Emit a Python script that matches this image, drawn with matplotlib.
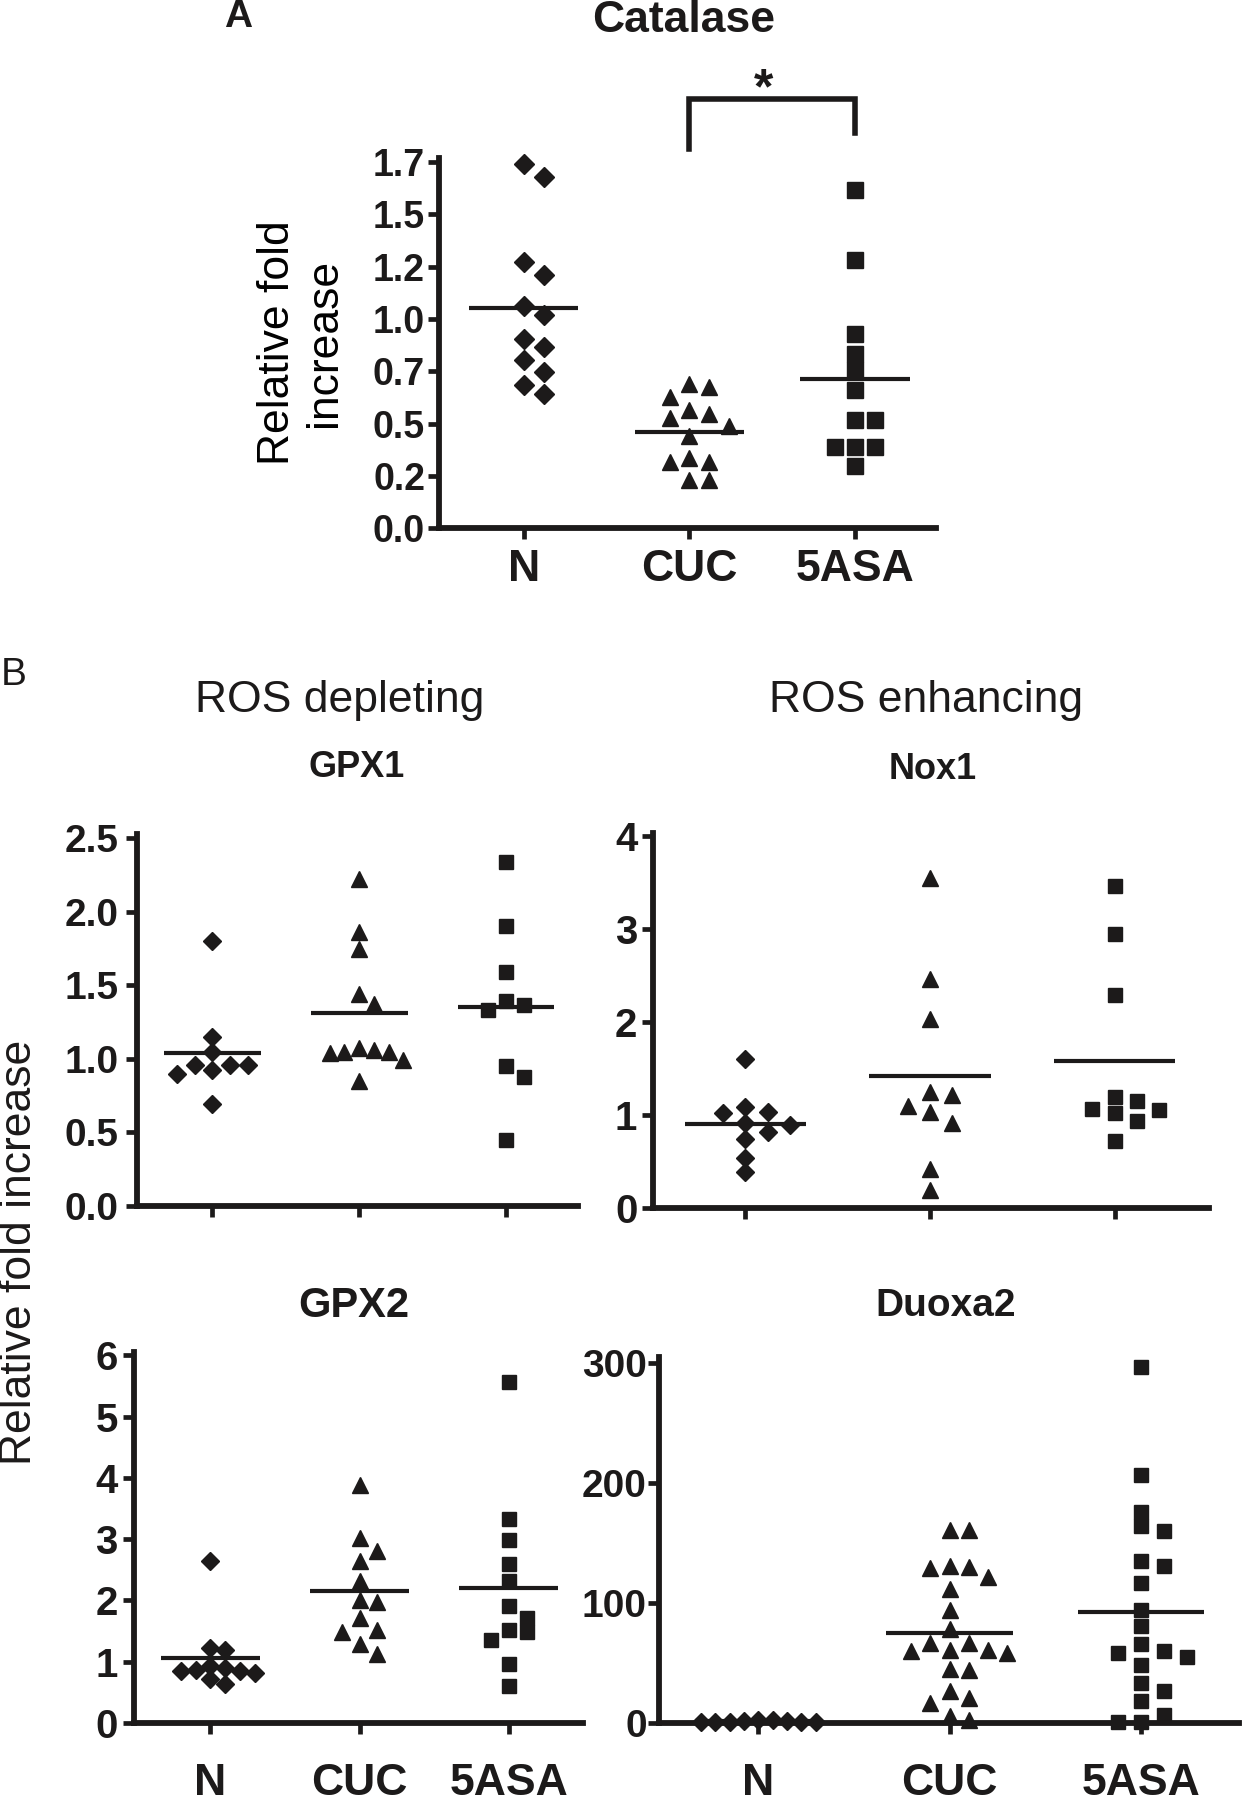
import numpy as np
import matplotlib
matplotlib.use("Agg")
import matplotlib.pyplot as plt

plt.rcParams['font.family'] = ['Liberation Sans', 'DejaVu Sans']

# ---------------- data ----------------
groups = ["N", "CUC", "5ASA"]

cat_N = [1.74, 1.68, 1.27, 1.21, 1.06, 1.02, 0.905, 0.865, 0.806, 0.746, 0.685, 0.641]
cat_CUC = [0.673, 0.691, 0.627, 0.544, 0.526, 0.563, 0.489, 0.443, 0.315, 0.334, 0.315, 0.233, 0.233]
cat_5ASA = [1.616, 1.283, 0.929, 0.832, 0.755, 0.663, 0.517, 0.517, 0.389, 0.389, 0.389, 0.297]
cat_ticks = [0, 0.25, 0.5, 0.75, 1.0, 1.25, 1.5, 1.75]
cat_ticklabels = ["0.0", "0.2", "0.5", "0.7", "1.0", "1.2", "1.5", "1.7"]

gpx1_N = [1.80, 1.15, 1.045, 0.96, 0.925, 0.895, 0.96, 0.96, 0.695]
gpx1_CUC = [2.225, 1.86, 1.75, 1.44, 1.375, 1.06, 1.05, 1.04, 1.05, 0.99, 1.075, 0.85]
gpx1_5ASA = [2.34, 1.905, 1.59, 1.395, 1.33, 1.37, 0.95, 0.875, 0.45]
gpx1_ticks = [0.0, 0.5, 1.0, 1.5, 2.0, 2.5]
gpx1_ticklabels = ["0.0", "0.5", "1.0", "1.5", "2.0", "2.5"]

nox1_N = [1.61, 1.09, 1.02, 1.04, 0.92, 0.90, 0.82, 0.74, 0.54, 0.39]
nox1_CUC = [3.55, 2.47, 2.03, 1.215, 1.255, 1.095, 1.035, 0.916, 0.42, 0.20]
nox1_5ASA = [3.47, 2.95, 2.29, 1.15, 1.055, 1.02, 1.07, 0.94, 1.20, 0.725]
nox1_ticks = [0, 1, 2, 3, 4]

gpx2_N = [2.65, 1.22, 1.19, 0.84, 0.81, 0.90, 0.87, 0.93, 0.84, 0.71, 0.64]
gpx2_CUC = [3.88, 3.01, 2.81, 2.64, 2.32, 1.97, 2.01, 1.71, 1.48, 1.51, 1.28, 1.13]
gpx2_5ASA = [5.57, 3.32, 2.99, 2.60, 2.32, 1.91, 1.71, 1.48, 1.51, 1.36, 0.96, 0.61]
gpx2_ticks = [0, 1, 2, 3, 4, 5, 6]

duox_N = [2.0, 1.0, 1.5, 0.5, 1.0, 2.0, 1.0, 0.8, 1.2]
duox_CUC = [161, 161, 131, 129, 122, 130, 112, 94, 78, 67, 61, 67, 60, 61, 58,
            44, 45, 27, 21, 17, 6, 2]
duox_5ASA = [297, 207, 176, 164, 160, 135, 131, 117, 94, 81, 66, 58, 60, 55, 48,
             33, 27, 18, 7, 1, 1]
duox_ticks = [0, 100, 200, 300]

# ---------------- figure ----------------
W, H = 1081.0, 1568.0   # reference (display) coordinate frame
fig = plt.figure(figsize=(12.42, 18.01), dpi=100)
INK = "#1c1a1a"


def rect(x0, x1, ybot, ytop):
    return [x0 / W, 1 - ybot / H, (x1 - x0) / W, (ybot - ytop) / H]


def swarm(vals, thr, step, maxw):
    vals = np.asarray(vals, float)
    order = np.argsort(-vals, kind="stable")
    placed = []
    offs = np.zeros(len(vals))
    slots = [0, 1, -1, 2, -2, 3, -3, 4, -4, 5, -5, 6, -6]
    for i in order:
        v = vals[i]
        for s in slots:
            if all(abs(v - pv) >= thr for pv, ps in placed if ps == s):
                break
        placed.append((v, s))
        offs[i] = s
    m = max(np.abs(offs).max(), 1)
    st = min(step, maxw / m)
    return offs * st


def style_axes(ax, lw=4.2):
    for s in ["top", "right"]:
        ax.spines[s].set_visible(False)
    for s in ["left", "bottom"]:
        ax.spines[s].set_linewidth(lw)
        ax.spines[s].set_color(INK)
        ax.spines[s].set_capstyle("projecting")
    ax.tick_params(axis="both", direction="out", width=3.4, length=8,
                   color=INK, labelcolor=INK)


def draw_panel(ax, data, markers, msizes, ylim, xlim, ticks, ticklabels,
               ytick_fs, xlabels, xtick_fs, xpad, ypad, step=0.12, maxw=0.3,
               mean_hw=0.33, mean_lw=3.0):
    ax.set_xlim(*xlim)
    ax.set_ylim(*ylim)
    fig.canvas.draw()
    hpx = ax.get_window_extent().height
    upp = (ylim[1] - ylim[0]) / hpx
    for i, (vals, mk, ms) in enumerate(zip(data, markers, msizes)):
        thr = ms * 100 / 72 * upp
        off = swarm(vals, thr, step, maxw)
        ax.plot(i + off, vals, linestyle="none", marker=mk, ms=ms,
                color=INK, mec=INK, clip_on=False, zorder=3)
        m = np.mean(vals)
        ax.plot([i - mean_hw, i + mean_hw], [m, m], color=INK, lw=mean_lw,
                solid_capstyle="butt", zorder=4, clip_on=False)
    ax.set_yticks(ticks)
    ax.set_yticklabels(ticklabels, fontsize=ytick_fs, fontweight="bold")
    ax.set_xticks(range(len(data)))
    if xlabels:
        ax.set_xticklabels(xlabels, fontsize=xtick_fs, fontweight="bold")
    else:
        ax.set_xticklabels([])
    style_axes(ax)
    ax.tick_params(axis="x", pad=xpad)
    ax.tick_params(axis="y", pad=ypad)


# ---- Panel A: Catalase ----
axA = fig.add_axes(rect(382, 815, 460, 137.3))
draw_panel(axA, [cat_N, cat_CUC, cat_5ASA], ["D", "^", "s"], [10.5, 12, 11],
           (0, 1.77), (-0.512, 2.49), cat_ticks, cat_ticklabels, 27,
           groups, 32, 7, 2, step=0.12)
axA.set_ylabel("Relative fold\nincrease", fontsize=32, linespacing=1.2,
               labelpad=20)
# significance bracket CUC vs 5ASA
axA.plot([1, 1, 2, 2], [1.81, 2.05, 2.05, 1.89], color=INK, lw=4.0,
         clip_on=False, solid_joinstyle="miter")
axA.text(1.45, 2.09, "*", ha="center", va="center", fontsize=36,
         fontweight="bold", color=INK, clip_on=False)

fig.text(595 / W, 1 - 18 / H, "Catalase", ha="center", va="center",
         fontsize=32, fontweight="bold", color=INK)
fig.text(207 / W, 1 - 15 / H, "A", ha="center", va="center", fontsize=28,
         fontweight="bold", color=INK)
fig.text(12 / W, 1 - 588 / H, "B", ha="center", va="center", fontsize=28,
         color=INK)

# ---- Panel B ----
fig.text(296 / W, 1 - 610 / H, "ROS depleting", ha="center", va="center",
         fontsize=32, color=INK)
fig.text(806 / W, 1 - 610 / H, "ROS enhancing", ha="center", va="center",
         fontsize=32, color=INK)
fig.text(310 / W, 1 - 668 / H, "GPX1", ha="center", va="center",
         fontsize=26, fontweight="bold", color=INK)
fig.text(812 / W, 1 - 670 / H, "Nox1", ha="center", va="center",
         fontsize=26, fontweight="bold", color=INK)
fig.text(308 / W, 1 - 1137 / H, "GPX2", ha="center", va="center",
         fontsize=30, fontweight="bold", color=INK)
fig.text(823 / W, 1 - 1137 / H, "Duoxa2", ha="center", va="center",
         fontsize=28, fontweight="bold", color=INK)
fig.text(17 / W, 1 - 1090 / H, "Relative fold increase", rotation=90,
         ha="center", va="center", fontsize=32, color=INK)

ax1 = fig.add_axes(rect(119, 503, 1050, 726))
draw_panel(ax1, [gpx1_N, gpx1_CUC, gpx1_5ASA], ["D", "^", "s"], [9.5, 11, 10],
           (0, 2.53), (-0.515, 2.49), gpx1_ticks, gpx1_ticklabels, 28,
           None, 30, 8, 5)

ax2 = fig.add_axes(rect(568, 1052, 1052, 725.6))
draw_panel(ax2, [nox1_N, nox1_CUC, nox1_5ASA], ["D", "^", "s"], [9.5, 11, 10],
           (0, 4.03), (-0.503, 2.51), nox1_ticks,
           [str(t) for t in nox1_ticks], 29, None, 30, 8, 3)

ax3 = fig.add_axes(rect(117, 507, 1500, 1177.3))
draw_panel(ax3, [gpx2_N, gpx2_CUC, gpx2_5ASA], ["D", "^", "s"], [9.5, 11, 10],
           (0, 6.05), (-0.51, 2.495), gpx2_ticks,
           [str(t) for t in gpx2_ticks], 29, groups, 32, 21, 4)

ax4 = fig.add_axes(rect(574, 1078, 1500, 1181.8))
draw_panel(ax4, [duox_N, duox_CUC, duox_5ASA], ["D", "^", "s"], [9.5, 11, 10],
           (0, 305), (-0.516, 2.51), duox_ticks,
           [str(t) for t in duox_ticks], 28, groups, 32, 21, 1)

fig.savefig("out.png", dpi=100, facecolor="white")
